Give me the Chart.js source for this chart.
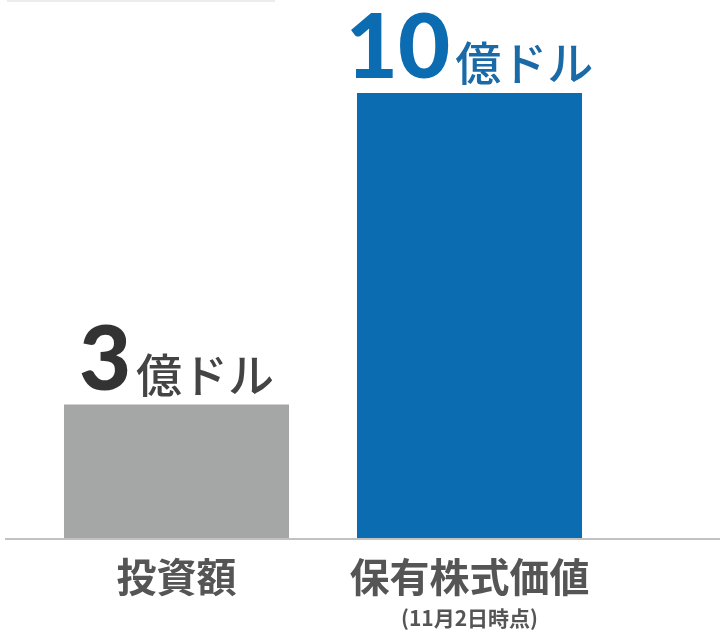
<!DOCTYPE html>
<html lang="ja">
<head>
<meta charset="utf-8">
<title>投資額と保有株式価値</title>
<script src="https://cdn.jsdelivr.net/npm/chart.js@4"></script>
<style>
  html, body { margin: 0; padding: 0; background: #fff; }
  #wrap { position: relative; width: 720px; height: 635px; }
  #topline { position: absolute; left: 7px; top: 0; width: 268px; height: 2px; background: #ececec; }
</style>
</head>
<body>
<div id="wrap">
  <div id="topline"></div>
  <canvas id="chart" width="720" height="635"></canvas>
</div>
<script>
const categories = ['投資額', '保有株式価値'];
const subLabels = ['', '(11月2日時点)'];
const values = [3, 10];           // 億ドル
const valueUnit = '億ドル';
const barColors = ['#a5a6a6', '#0b6cb1'];
const numberColors = ['#333333', '#0b6cb1'];
const unitColors = ['#444444', '#1a6aa8'];

const JP = '"Noto Sans CJK JP", "Noto Sans", sans-serif';

// value labels, category names and the baseline are drawn by hand
const labelPlugin = {
  id: 'labels',
  afterDatasetsDraw(chart) {
    const ctx = chart.ctx;
    const area = chart.chartArea;
    const meta = chart.getDatasetMeta(0);

    // baseline across the page
    ctx.save();
    ctx.strokeStyle = '#c2c2c2';
    ctx.lineWidth = 2;
    ctx.beginPath();
    ctx.moveTo(5, area.bottom + 1);
    ctx.lineTo(chart.width, area.bottom + 1);
    ctx.stroke();

    meta.data.forEach((bar, i) => {
      const num = String(values[i]);
      const numFont = '900 90px Lato, "Noto Sans", sans-serif';
      const unitFont = '500 46px ' + JP;
      ctx.font = numFont;
      const wNum = ctx.measureText(num).width;
      ctx.font = unitFont;
      const wUnit = ctx.measureText(valueUnit).width;
      const gap = 5;
      let x = bar.x - (wNum + gap + wUnit) / 2;
      const y = bar.y - 15;

      ctx.textAlign = 'left';
      ctx.textBaseline = 'alphabetic';
      ctx.font = numFont;
      ctx.fillStyle = numberColors[i];
      ctx.fillText(num, x, y);
      x += wNum + gap;
      ctx.font = unitFont;
      ctx.fillStyle = unitColors[i];
      ctx.fillText(valueUnit, x, y + 2);

      // category name under the axis
      ctx.textAlign = 'center';
      ctx.fillStyle = '#555555';
      ctx.font = 'bold 40px ' + JP;
      ctx.fillText(categories[i], bar.x, area.bottom + 54);
      if (subLabels[i]) {
        ctx.font = 'bold 21px ' + JP;
        ctx.fillText(subLabels[i], bar.x, area.bottom + 88);
      }
    });
    ctx.restore();
  }
};

new Chart(document.getElementById('chart'), {
  type: 'bar',
  data: {
    labels: categories,
    datasets: [{
      data: values,
      backgroundColor: barColors,
      borderWidth: 0,
      categoryPercentage: 1,
      barPercentage: 0.768
    }]
  },
  options: {
    responsive: false,
    animation: false,
    layout: { padding: { left: 30, right: 104, top: 4, bottom: 97 } },
    plugins: {
      legend: { display: false },
      tooltip: { enabled: false }
    },
    scales: {
      x: { display: false },
      y: { display: false, min: 0, max: 12 }
    }
  },
  plugins: [labelPlugin]
});
</script>
</body>
</html>
